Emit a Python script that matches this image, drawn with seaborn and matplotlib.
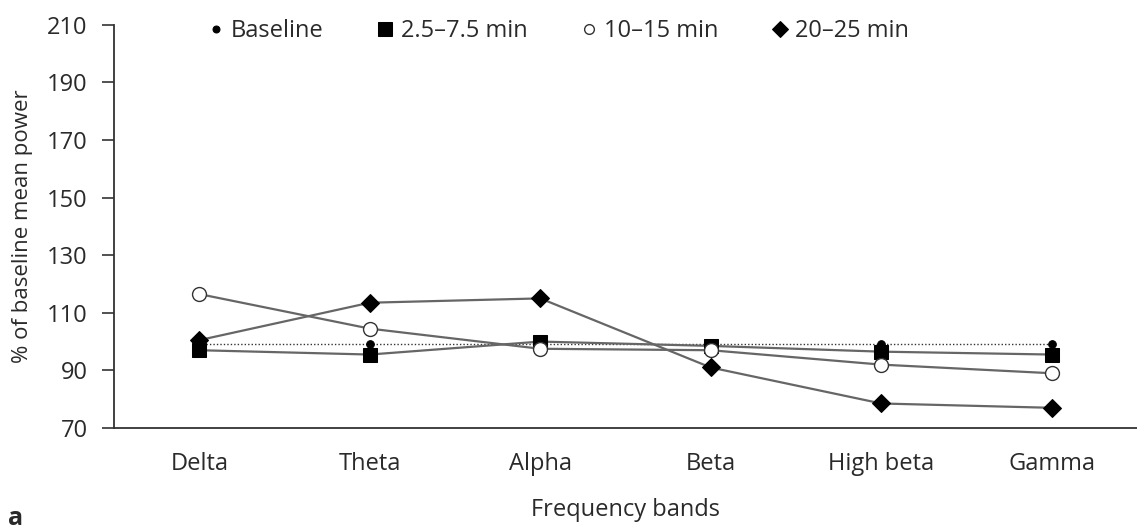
import matplotlib
matplotlib.use("Agg")
import matplotlib.pyplot as plt
import seaborn as sns
import pandas as pd

bands = ["Delta", "Theta", "Alpha", "Beta", "High beta", "Gamma"]
baseline = [99, 99, 99, 99, 99, 99]
min_2_5_7_5 = [97, 95.5, 100, 98.5, 96.5, 95.5]
min_10_15 = [116.5, 104.5, 97.5, 97, 92, 89]
min_20_25 = [100.5, 113.5, 115, 91, 78.5, 77]
series_labels = ["Baseline", "2.5\u20137.5 min", "10\u201315 min", "20\u201325 min"]
yticks = [70, 90, 110, 130, 150, 170, 190, 210]

sns.set_theme(style="white")
plt.rcParams["font.family"] = ["Open Sans", "DejaVu Sans"]

TXT = "#2a2a2a"
FS = 17

fig = plt.figure(figsize=(11.37, 5.29), dpi=100)
ax = fig.add_axes([0.1003, 0.191, 0.8997, 0.762])

styles = [
    dict(marker="o", markersize=5.5, markerfacecolor="black", markeredgecolor="black",
         linestyle=(0, (1, 1.5)), color="#333333", linewidth=1.0),
    dict(marker="s", markersize=10.5, markerfacecolor="black", markeredgecolor="black",
         linestyle="-", color="#666666", linewidth=1.6),
    dict(marker="o", markersize=10, markerfacecolor="white", markeredgecolor="#333333",
         markeredgewidth=1.0, linestyle="-", color="#666666", linewidth=1.6),
    dict(marker="D", markersize=9, markerfacecolor="black", markeredgecolor="black",
         linestyle="-", color="#666666", linewidth=1.6),
]
data = [baseline, min_2_5_7_5, min_10_15, min_20_25]
for vals, lab, st in zip(data, series_labels, styles):
    df = pd.DataFrame({"band": bands, "value": vals})
    sns.lineplot(data=df, x="band", y="value", ax=ax, label=lab, sort=False, **st)

ax.set_xlim(-0.5, 5.5)
ax.set_ylim(70, 210)
ax.set_yticks(yticks)
ax.set_xticks([i - 0.5 for i in range(7)])
ax.set_xticklabels([])
ax.set_xticks(range(6), minor=True)
ax.set_xticklabels(bands, minor=True)
ax.tick_params(axis="x", which="major", direction="out", length=9, width=1.2, color="#333333")
ax.tick_params(axis="x", which="minor", length=0, pad=17, labelsize=FS, colors=TXT)
ax.tick_params(axis="y", direction="out", length=9, width=1.2, color="#333333",
               labelsize=FS, labelcolor=TXT, left=True, pad=10)
for s in ["top", "right"]:
    ax.spines[s].set_visible(False)
for s in ["left", "bottom"]:
    ax.spines[s].set_color("#333333")
    ax.spines[s].set_linewidth(1.3)

ax.set_xlabel("Frequency bands", fontsize=FS, color=TXT, labelpad=16)
ax.set_ylabel("% of baseline mean power", fontsize=16, color=TXT, labelpad=10)

h, l = ax.get_legend_handles_labels()
leg = ax.legend(h, l, loc="center", bbox_to_anchor=(0.436, 0.985), ncol=4, frameon=False,
                fontsize=FS, handlelength=0.4, handletextpad=0.45, columnspacing=2.4)
leg_sizes = [5, 10, 7, 8]
for lh, ms in zip(leg.legend_handles, leg_sizes):
    lh.set_linestyle("None")
    lh.set_markersize(ms)
for t in leg.get_texts():
    t.set_color(TXT)

fig.text(0.007, 0.008, "a", fontsize=18, fontweight="bold", color=TXT)

fig.savefig("out.png", dpi=100)
